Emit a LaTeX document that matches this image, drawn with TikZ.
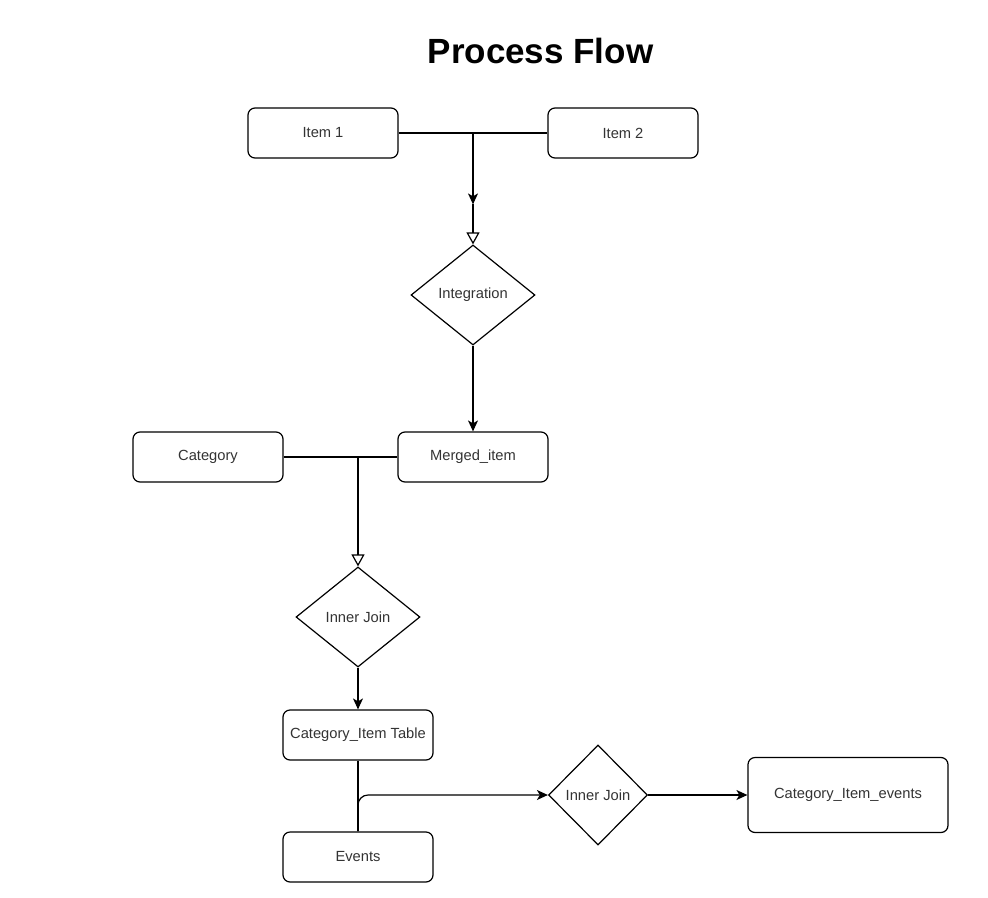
\documentclass[tikz,border=0pt]{standalone}
\usepackage{fontspec}
\setmainfont{Liberation Sans}
\usetikzlibrary{arrows.meta,positioning,shapes.geometric}

\begin{document}
\begin{tikzpicture}[x=1pt,y=-1pt,on grid,auto,line width=1.2pt,
    box/.style={draw,rounded corners=7pt,minimum width=150pt,minimum height=50pt,inner sep=0pt,text=black!80,font=\fontsize{14.7}{17}\selectfont},
    decision/.style={draw,diamond,aspect=1.24,minimum width=124pt,minimum height=100pt,inner sep=0pt,text=black!80,font=\fontsize{14.7}{17}\selectfont},
    flow/.style={-{Stealth[length=11pt,width=10pt,inset=3pt]}},
    mergeto/.style={-{Triangle[open,length=12pt,width=13pt]}}]
                \useasboundingbox (0,0) rectangle (988,897);
                \node[font=\bfseries\fontsize{35}{40}\selectfont,anchor=base] (title) at (540.5,63) {Process Flow};
                \node[box] (item1) at (323,133) {Item 1};
                \node[box] [right=300pt of item1] (item2) {Item 2};
                \node[decision] (integ) at (473,295) {Integration};
                \node[box] [below=162pt of integ] (merged) {Merged\_item};
                \node[box] [left=265pt of merged] (category) {Category};
                \node[decision] (join1) at (358,617) {Inner Join};
                \node[box] [below=118pt of join1] (table) {Category\_Item Table};
                \node[box] [below=122pt of table] (events) {Events};
                \node[decision,aspect=1,minimum width=99pt] (join2) at (598,795) {Inner Join};
                \node[box,minimum width=200pt,minimum height=75pt] [right=250pt of join2] (catev) {Category\_Item\_events};
                \coordinate (j1) at (integ.north |- item1.east);
                \coordinate[above=40pt of integ.north] (m1);
                \coordinate (j2) at (join1.north |- merged.west);
                % merge the two items
                \draw (item1.east) -- (item2.west);
                \draw[flow] (j1) -- (m1);
                \draw[mergeto] (m1) -- (integ.north);
                % category join
                \draw (category.east) -- (merged.west);
                \draw[mergeto] (j2) -- (join1.north);
                % events join
                \draw (table.south) -- (events.north);
                \draw[flow,rounded corners=10pt] (events.north) -- (events.north |- join2.west) -- (join2.west);
                \path[flow]
                (integ) edge (merged)
                (join1) edge (table)
                (join2) edge (catev);
            \end{tikzpicture}
\end{document}
